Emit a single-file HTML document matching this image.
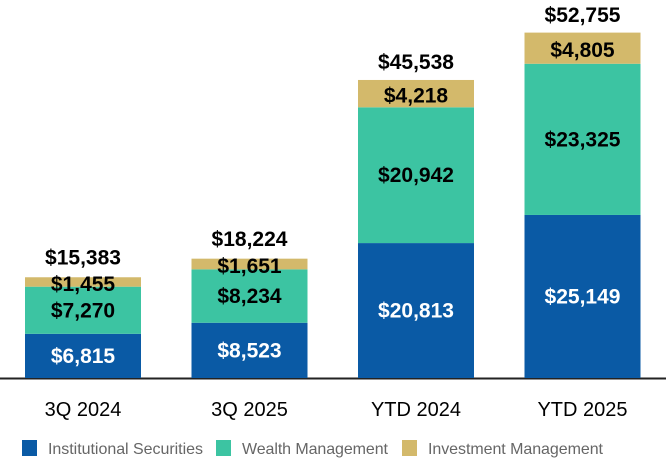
<!DOCTYPE html>
<html><head><meta charset="utf-8"><style>
html,body{margin:0;padding:0;background:#fff;}
svg text{font-family:"Liberation Sans",sans-serif;}
</style></head><body>
<svg id="chart" width="666" height="460" xmlns="http://www.w3.org/2000/svg">
<line x1="0" y1="378.5" x2="666" y2="378.5" stroke="#222" stroke-width="2"/>
<g id="bars"></g>
<g id="legend">
 <g><rect x="22" y="440" width="15" height="16" fill="#0a5aa5"/><text x="48" y="454" font-size="16" fill="#666" textLength="155">Institutional Securities</text></g>
 <g><rect x="216" y="440" width="15" height="16" fill="#3cc4a2"/><text x="242" y="454" font-size="16" fill="#666" textLength="146">Wealth Management</text></g>
 <g><rect x="402" y="440" width="15" height="16" fill="#d3b96b"/><text x="428" y="454" font-size="16" fill="#666" textLength="175">Investment Management</text></g>
</g>
</svg>
<script>
const categories = ["3Q 2024","3Q 2025","YTD 2024","YTD 2025"];
const institutional = [6815, 8523, 20813, 25149];
const wealth = [7270, 8234, 20942, 23325];
const investment = [1455, 1651, 4218, 4805];
const totals = [15383, 18224, 45538, 52755];

const baseY = 378, pxPer = 342 / 52755;
const yScale = v => baseY - v * pxPer;
const xLeft = i => 25 + i * 166.5;
const bw = 116;
const fmt = v => "$" + v.toLocaleString("en-US");
const NS = "http://www.w3.org/2000/svg";
const g = document.getElementById("bars");
function mk(tag, attrs){const e=document.createElementNS(NS,tag);for(const k in attrs)e.setAttribute(k,attrs[k]);return e;}
const series = [
 {vals: institutional, color:"#0a5aa5", text:"#fff", key:"institutional"},
 {vals: wealth, color:"#3cc4a2", text:"#000", key:"wealth"},
 {vals: investment, color:"#d3b96b", text:"#000", key:"investment"}
];
categories.forEach((c,i)=>{
  let cum = 0;
  series.forEach(s=>{
    const v = s.vals[i];
    const y0 = yScale(cum), y1 = yScale(cum+v);
    const r = mk("rect",{x:xLeft(i),y:y1,width:bw,height:y0-y1,fill:s.color});
    
    
    g.appendChild(r);
    cum += v;
  });
  cum = 0;
  series.forEach(s=>{
    const v = s.vals[i];
    const y0 = yScale(cum), y1 = yScale(cum+v);
    const t = mk("text",{x:xLeft(i)+bw/2,y:(y0+y1)/2+7+(s.key==="investment"?2:0),"text-anchor":"middle","font-size":"21","font-weight":"bold",fill:s.text});
    t.textContent = fmt(v);
    
    
    g.appendChild(t);
    cum += v;
  });
  const tt = mk("text",{x:xLeft(i)+bw/2,y:yScale(totals[i])-14,"text-anchor":"middle","font-size":"21","font-weight":"bold",fill:"#000"});
  tt.textContent = fmt(totals[i]);
  
  
  g.appendChild(tt);
  const xl = mk("text",{x:xLeft(i)+bw/2,y:416,"text-anchor":"middle","font-size":"20",fill:"#000"});
  xl.textContent = c;
  
  
  g.appendChild(xl);
});
</script>
</body></html>
